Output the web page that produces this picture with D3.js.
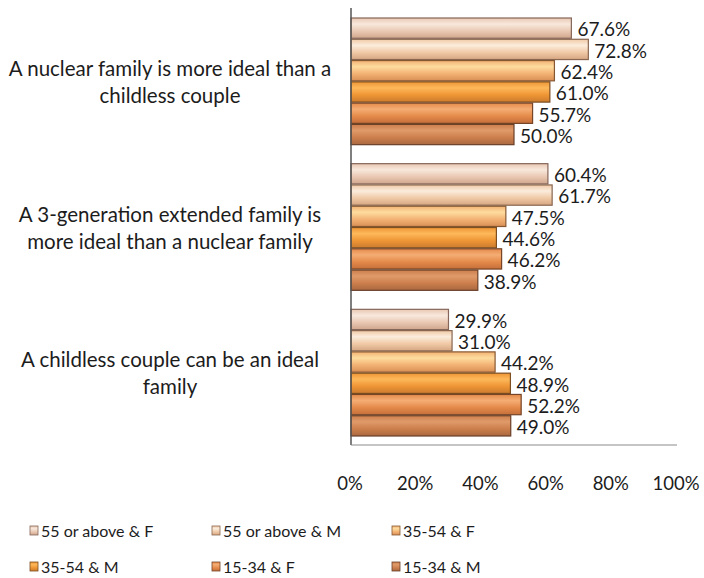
<!DOCTYPE html>
<html>
<head>
<meta charset="utf-8">
<script src="https://cdn.jsdelivr.net/npm/d3@7"></script>
<style>
  html, body { margin: 0; padding: 0; background: #ffffff; }
  svg { display: block; }
  text { font-family: Lato, "Open Sans", sans-serif; fill: #1c1c1c; }
</style>
</head>
<body>
<svg id="chart" width="704" height="578"></svg>
<script>
// Statements (each label is split over two lines)
const categories = [
  ["A nuclear family is more ideal than a", "childless couple"],
  ["A 3-generation extended family is", "more ideal than a nuclear family"],
  ["A childless couple can be an ideal", "family"]
];
const categoryKeys = ["nuclear", "extended", "childless"];

// Respondent groups, in drawing order (top to bottom within each statement)
const seriesNames = ["55 or above & F", "55 or above & M", "35-54 & F", "35-54 & M", "15-34 & F", "15-34 & M"];

// Share agreeing (%), one array per group, ordered as categories
const s55F  = [67.6, 60.4, 29.9];
const s55M  = [72.8, 61.7, 31.0];
const s35F  = [62.4, 47.5, 44.2];
const s35M  = [61.0, 44.6, 48.9];
const s15F  = [55.7, 46.2, 52.2];
const s15M  = [50.0, 38.9, 49.0];
const seriesValues = [s55F, s55M, s35F, s35M, s15F, s15M];

const xTicks = [0, 20, 40, 60, 80, 100];

// Gradient stops per group: [top, middle, bottom, edge]
const palette = [
  ["#f8e8dc", "#e9c8b2", "#d0a68c", "#86665a"],
  ["#fbecdc", "#f0c9a6", "#d6a682", "#886650"],
  ["#fddc9e", "#f3b274", "#d88e54", "#865832"],
  ["#fdb85a", "#ee9535", "#cc7c2e", "#7c4e20"],
  ["#f5ad74", "#e48a4a", "#c46e3a", "#764426"],
  ["#e09a6a", "#cc7f4c", "#aa6840", "#6a4028"]
];

const svg = d3.select("#chart");
const defs = svg.append("defs");

palette.forEach((c, i) => {
  const g = defs.append("linearGradient")
    .attr("id", "grad" + i)
    .attr("x1", 0).attr("y1", 0).attr("x2", 0).attr("y2", 1);
  g.append("stop").attr("offset", "0%").attr("stop-color", c[1]);
  g.append("stop").attr("offset", "30%").attr("stop-color", c[0]);
  g.append("stop").attr("offset", "65%").attr("stop-color", c[1]);
  g.append("stop").attr("offset", "100%").attr("stop-color", c[2]);
});

const x = d3.scaleLinear().domain([0, 100]).range([351, 677]);
const y = d3.scaleBand().domain(categoryKeys).range([8, 445]).paddingInner(0).paddingOuter(0);
const yInner = d3.scaleBand().domain(d3.range(seriesNames.length))
  .range([10, y.bandwidth() - 8]).padding(0);

// Bars
const groups = svg.append("g").selectAll("g")
  .data(categoryKeys)
  .join("g")
  .attr("transform", d => `translate(0,${y(d)})`);

groups.each(function(key, ci) {
  const g = d3.select(this);
  const rows = seriesValues.map((vals, si) => ({ si, v: vals[ci] }));
  g.selectAll("rect")
    .data(rows)
    .join("rect")
    .attr("x", x(0))
    .attr("y", d => yInner(d.si))
    .attr("width", d => x(d.v) - x(0))
    .attr("height", yInner.bandwidth() - 1)
    .attr("fill", d => `url(#grad${d.si})`)
    .attr("stroke", d => palette[d.si][3])
    .attr("stroke-width", 1.2);

  g.selectAll("text.value")
    .data(rows)
    .join("text")
    .attr("class", "value")
    .attr("x", d => x(d.v) + 6)
    .attr("y", d => yInner(d.si) + yInner.bandwidth() / 2 + 1)
    .attr("dy", "0.36em")
    .attr("font-size", 19)
    .text(d => d.v.toFixed(1) + "%");
});

// Axis lines
svg.append("line")
  .attr("x1", x(0)).attr("x2", x(0)).attr("y1", 8).attr("y2", 445)
  .attr("stroke", "#555").attr("stroke-width", 1.5);
svg.append("line")
  .attr("x1", x(0)).attr("x2", x(100)).attr("y1", 445).attr("y2", 445)
  .attr("stroke", "#8a8a8a").attr("stroke-width", 1);

// Category labels
const labelCx = 170;
categoryKeys.forEach((key, ci) => {
  const c = y(key) + y.bandwidth() / 2;
  const t = svg.append("text")
    .attr("text-anchor", "middle")
    .attr("font-size", 20.5);
  categories[ci].forEach((line, li) => {
    t.append("tspan")
      .attr("x", labelCx)
      .attr("y", c - 5 + li * 27)
      .text(line);
  });
});

// Percentage axis labels
svg.append("g").selectAll("text")
  .data(xTicks)
  .join("text")
  .attr("x", d => x(d) - 1)
  .attr("y", 490)
  .attr("text-anchor", "middle")
  .attr("font-size", 18.5)
  .text(d => d + "%");

// Legend
const legendCols = [30, 212, 392];
const legendRows = [531, 567];
const legend = svg.append("g").selectAll("g")
  .data(seriesNames)
  .join("g")
  .attr("transform", (d, i) => `translate(${legendCols[i % 3]},${legendRows[Math.floor(i / 3)]})`);

legend.append("rect")
  .attr("x", 0).attr("y", -5)
  .attr("width", 8).attr("height", 9)
  .attr("fill", (d, i) => `url(#grad${i})`)
  .attr("stroke", (d, i) => palette[i][3])
  .attr("stroke-width", 0.8);

legend.append("text")
  .attr("x", 11)
  .attr("y", 0)
  .attr("dy", "0.36em")
  .attr("font-size", 16)
  .text(d => d);
</script>
</body>
</html>
